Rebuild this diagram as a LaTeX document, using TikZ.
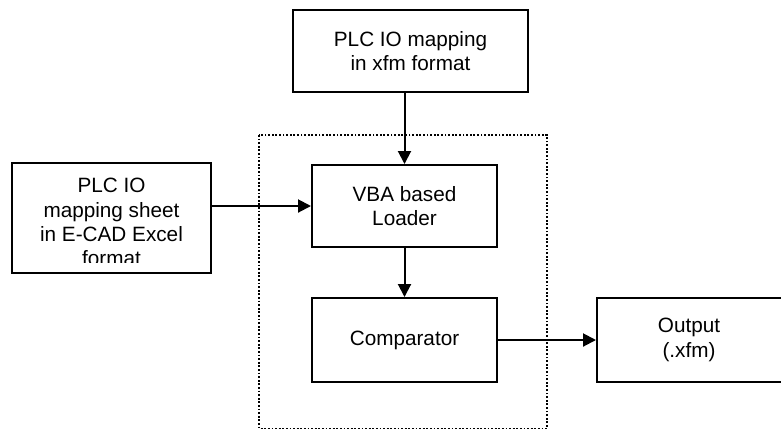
\documentclass[tikz,border=0pt]{standalone}
\usepackage{fontspec}
\setmainfont{Liberation Sans}
\usetikzlibrary{arrows.meta}
\begin{document}
\begin{tikzpicture}[x=1bp,y=-1bp,
  box/.style={draw,line width=2bp,rectangle,inner sep=0pt,align=center,
    font=\fontsize{20.8}{24.3}\selectfont},
  txt/.style={font=\fontsize{20.8}{24.3}\selectfont,align=center},
  conn/.style={line width=2bp,-{Triangle[length=13bp,width=13bp]}},
  dotbox/.style={line width=1.8bp,dash pattern=on 1.8bp off 1.8bp}]
\useasboundingbox (0,0) rectangle (781,430);
% dotted frame
\draw[dotbox] (259,135) rectangle (547,428.5);
% boxes
\node[box,minimum width=235bp,minimum height=82bp] (top) at (410.5,51)
  {PLC IO mapping\\in xfm format};
\node[box,minimum width=185bp,minimum height=82bp] (loader) at (404.5,206)
  {VBA based\\Loader};
\node[box,minimum width=185bp,minimum height=84bp] (comp) at (404.5,340)
  {Comparator};
\node[box,minimum width=230bp,minimum height=84bp] (out) at (712,340) {};
\node[txt] (outtxt) at (689,340) {Output\\(.xfm)};
\node[box,minimum width=199bp,minimum height=110bp] (sheet) at (111.5,218) {};
\begin{scope}
  \clip (13,164) rectangle (210,262);
  \node[txt,anchor=north] (sheettxt) at (111.5,175)
    {PLC IO\\mapping sheet\\in E-CAD Excel\\format};
\end{scope}
% connectors
\draw[conn] (loader.north |- top.south) -- (loader.north);
\draw[conn] (sheet.east |- loader.west) -- (loader.west);
\draw[conn] (loader.south) -- (comp.north);
\draw[conn] (comp.east) -- (out.west);
\end{tikzpicture}
\end{document}
